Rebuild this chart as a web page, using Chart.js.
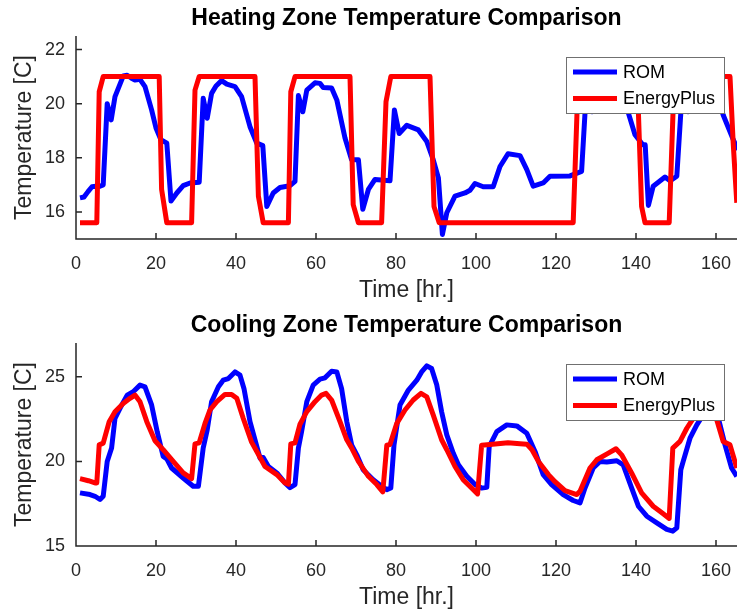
<!DOCTYPE html>
<html>
<head>
<meta charset="utf-8">
<script src="https://cdn.jsdelivr.net/npm/chart.js@4.4.1/dist/chart.umd.min.js"></script>
<style>
  body { margin: 0; background: #fff; }
  canvas { position: absolute; left: 0; }
  #heatChart { top: 0; }
  #coolChart { top: 307px; }
</style>
</head>
<body>
<canvas id="heatChart" width="737" height="306"></canvas>
<canvas id="coolChart" width="737" height="305"></canvas>
<script>
// Heating zone - ROM
const heatRomHours = [1, 2, 3, 4, 5, 6, 6.8, 7.8, 8.8, 9.75, 10.8, 11.8, 12.8, 13.8, 14.75, 16, 17.25, 18.9, 20, 21.2, 22.7, 23.75, 25.2, 26.8, 28.5, 30.8,
  31.8, 32.8, 33.9, 35, 36.4, 37.7, 39.75, 41.4, 43.5, 45.2, 46.7, 47.7, 49.3, 51, 53.5, 54.75,
  55.6, 56.7, 57.7, 59.75, 61, 61.8, 63.9, 65.2, 67.25, 68.9, 70.6, 71.7, 73.1, 74.75, 78.5,
  79.6, 80.8, 82.7, 85.6, 87.7, 89.3, 90.6, 91.6, 92.7, 94.75, 97.25, 98.5, 99.75, 101.8, 104.3, 106, 108, 111, 112.7, 114.3, 116.8, 118.5, 123.5, 126.4,
  127.25, 128, 129, 130, 132, 134, 136, 138.1, 139.75, 141.7, 142.3, 143.1, 144.3, 147.25, 148.5, 150.2,
  151.2, 152, 153, 154, 156, 158, 160, 161.8, 164.3, 165.5];
const heatRomTemp = [16.52, 16.55, 16.75, 16.93, 16.95, 16.95, 17.0, 20.0, 19.4, 20.26, 20.65, 21.02, 21.05, 20.95, 20.87, 20.9, 20.63, 19.77, 19.1, 18.67, 18.54, 16.4, 16.7, 16.97, 17.07, 17.1,
  20.2, 19.46, 20.38, 20.65, 20.85, 20.72, 20.63, 20.26, 19.15, 18.54, 18.45, 16.2, 16.7, 16.9, 16.97, 17.13,
  20.3, 19.7, 20.5, 20.77, 20.75, 20.6, 20.58, 20.14, 18.73, 17.93, 17.93, 16.1, 16.83, 17.2, 17.15,
  19.77, 18.9, 19.2, 19.03, 18.6, 17.93, 17.26, 15.17, 15.97, 16.58, 16.7, 16.8, 17.05, 16.93, 16.93, 17.68, 18.15, 18.08, 17.56, 16.95, 17.07, 17.32, 17.33, 17.5,
  19.65, 20.4, 19.7, 20.4, 20.8, 20.75, 20.4, 19.65, 18.85, 18.48, 18.48, 16.24, 16.95, 17.29, 17.15, 17.32,
  19.65, 20.4, 19.7, 20.4, 20.8, 20.75, 20.4, 19.58, 18.67, 18.3];

// Heating zone - EnergyPlus
const heatEpHours = [1, 5.2, 5.8, 6.8, 20.8, 21.4, 22.7, 28.9, 29.75, 30.8, 44.75, 45.6, 46.8, 53.1, 53.7, 54.75, 68.5, 69.3, 70.6,
  76.4, 77.5, 78.7, 88.5, 89.5, 90.8, 124.3, 125.4, 126.5, 140.3, 141.4, 142.25, 148.3, 149.4, 150.5, 163.5, 164.3, 165.2];
const heatEpTemp = [15.6, 15.6, 20.44, 21, 21, 16.83, 15.6, 15.6, 20.5, 21, 21, 16.58, 15.6, 15.6, 20.44, 21, 21, 16.27, 15.6,
  15.6, 20.07, 21, 21, 16.2, 15.6, 15.6, 20.3, 21, 21, 16.2, 15.6, 15.6, 20.3, 21, 21, 18.54, 16.34];

// Cooling zone - ROM
const coolRomHours = [1, 3.5, 4.75, 6, 6.8, 7.8, 8.9, 9.75, 11, 12.8, 14.3, 16, 17.25, 18.9, 20.3, 21.8, 22.7, 23.9, 26.8, 29.3, 30.6,
  31.8, 32.8, 33.9, 35.6, 36.8, 38.1, 39.75, 41, 42, 43.5, 45.2, 46, 46.8, 48.1, 50.2, 52.25, 53.5, 54.75,
  55.6, 56.4, 57.7, 59.3, 61, 62.25, 63.9, 65.2, 66.4, 67.7, 68.9, 70.2, 71.8, 74.3, 76.4, 77.7, 78.7,
  79.5, 81, 83.1, 85.2, 86.4, 87.7, 88.9, 90.2, 91.4, 92.7, 94.3, 95.6, 97.7, 99.75, 101.4, 102.7,
  103.3, 105.2, 107.7, 110.2, 112.7, 114.75, 116.8, 118.9, 121.8, 124.3, 126,
  127.25, 129.3, 131, 132.7, 135.2, 136.8, 138.9, 140.6, 142.7, 145.2, 147.7, 149.2, 150.2,
  151.2, 151.8, 153.5, 155.2, 156.8, 158.5, 160, 160.8, 162.25, 163.9, 165.2];
const coolRomTemp = [18.14, 18.04, 17.94, 17.75, 17.94, 20.0, 20.79, 22.55, 23.14, 23.92, 24.12, 24.51, 24.41, 23.34, 21.76, 20.29, 20.15, 19.61, 19.02, 18.53, 18.53,
  20.79, 21.86, 23.53, 24.41, 24.8, 24.9, 25.29, 25.1, 24.3, 22.35, 20.88, 20.2, 20.23, 19.7, 19.32, 18.73, 18.45, 18.63,
  20.79, 21.76, 23.53, 24.51, 24.86, 24.94, 25.33, 25.29, 24.3, 22.35, 20.98, 20.39, 19.51, 18.92, 18.53, 18.33, 18.43,
  20.98, 23.33, 24.22, 24.8, 25.29, 25.65, 25.49, 24.51, 22.94, 21.57, 20.49, 19.8, 19.12, 18.63, 18.43, 18.47,
  20.88, 21.76, 22.16, 22.1, 21.67, 20.59, 19.22, 18.63, 18.04, 17.69, 17.55,
  18.43, 19.61, 20.0, 19.96, 20.04, 19.8, 18.43, 17.35, 16.76, 16.37, 15.98, 15.88, 16.08,
  19.51, 20.0, 21.37, 22.16, 22.75, 23.2, 22.9, 22.35, 20.98, 19.61, 19.12];

// Cooling zone - EnergyPlus
const coolEpHours = [1, 3.1, 4.75, 5.2, 5.8, 6.8, 8.3, 9.75, 11.8, 13.5, 14.75, 16, 17.7, 19.75, 21.8, 24.3, 26.8, 28.9,
  29.75, 30.8, 32.25, 33.5, 35.2, 37.25, 38.9, 40.2, 41.8, 43.9, 45.2, 47.25, 50.2, 52.25, 53.1,
  53.7, 54.75, 56, 57.7, 59.75, 61.4, 62.5, 63.9, 66, 67.7, 68.9, 70.6, 73.1, 75.2, 76.7,
  77.7, 78.5, 80.2, 82.25, 84.3, 86.25, 87.7, 89.3, 91.4, 92.7, 94.75, 96.8, 98.9, 100.4,
  101.4, 103.5, 108, 111, 112.7, 114, 115.6, 118.1, 119.75, 122.25, 125.2,
  126, 128.5, 130.2, 133.1, 135, 136.4, 138.9, 141.4, 144.3, 146.8, 148.3,
  149.2, 151, 152.7, 154.3, 156.5, 158.5, 160.2, 161.8, 163.5, 165.2];
const coolEpTemp = [18.98, 18.86, 18.73, 18.73, 20.98, 21.08, 22.35, 22.94, 23.43, 23.73, 23.92, 23.53, 22.35, 21.22, 20.69, 20.0, 19.32, 18.98,
  21.04, 21.1, 22.25, 23.04, 23.53, 23.96, 23.96, 23.73, 22.55, 21.14, 20.59, 19.7, 19.22, 18.73, 18.65,
  21.04, 21.1, 22.2, 22.94, 23.53, 23.92, 24.02, 23.63, 22.35, 21.28, 20.8, 20.0, 19.12, 18.63, 18.2,
  20.96, 21.0, 22.25, 23.04, 23.63, 24.02, 23.82, 22.75, 21.28, 20.69, 19.7, 18.92, 18.43, 18.08,
  20.96, 21.0, 21.1, 21.05, 21.02, 20.69, 20.0, 19.22, 18.8, 18.27, 18.04,
  18.24, 19.61, 20.1, 20.49, 20.75, 20.39, 19.32, 18.14, 17.35, 16.9, 16.63,
  20.79, 21.18, 21.96, 22.55, 23.1, 23.3, 22.45, 21.18, 20.98, 19.61];

const xTicks = [0, 20, 40, 60, 80, 100, 120, 140, 160];
const heatYTicks = [16, 18, 20, 22];
const coolYTicks = [15, 20, 25];

const FONT = "'Liberation Sans', Arial, Helvetica, sans-serif";
const AXIS_COLOR = "#262626";

function toPoints(hours, temps) {
    return hours.map((h, i) => ({ x: h, y: temps[i] }));
}

// MATLAB-like axes: inward ticks, left/bottom lines, legend box inside the plot
const matlabAxes = {
    id: "matlabAxes",
    afterDraw(chart) {
        const ctx = chart.ctx;
        const area = chart.chartArea;
        const xs = chart.scales.x;
        const ys = chart.scales.y;
        ctx.save();
        ctx.strokeStyle = AXIS_COLOR;
        ctx.lineWidth = 1.5;
        ctx.beginPath();
        ctx.moveTo(area.left, area.top);
        ctx.lineTo(area.left, area.bottom);
        ctx.lineTo(area.right, area.bottom);
        xs.ticks.forEach((t) => {
            const px = xs.getPixelForValue(t.value);
            ctx.moveTo(px, area.bottom);
            ctx.lineTo(px, area.bottom - 6);
        });
        ys.ticks.forEach((t) => {
            const py = ys.getPixelForValue(t.value);
            ctx.moveTo(area.left, py);
            ctx.lineTo(area.left + 6, py);
        });
        ctx.stroke();

        // legend
        const bx = 566, by = 57, bw = 158, bh = 56;
        ctx.fillStyle = "#fff";
        ctx.fillRect(bx, by, bw, bh);
        ctx.strokeStyle = "#707070";
        ctx.lineWidth = 1;
        ctx.strokeRect(bx + 0.5, by + 0.5, bw, bh);
        ctx.font = "18px " + FONT;
        ctx.textBaseline = "middle";
        ctx.textAlign = "left";
        chart.data.datasets.forEach((ds, i) => {
            const yy = by + 15 + i * 26.5;
            ctx.strokeStyle = ds.borderColor;
            ctx.lineWidth = 5;
            ctx.beginPath();
            ctx.moveTo(bx + 7, yy);
            ctx.lineTo(bx + 51, yy);
            ctx.stroke();
            ctx.fillStyle = "#000";
            ctx.fillText(ds.label, bx + 57, yy + 1);
        });
        ctx.restore();
    }
};

function makeChart(id, title, romPts, epPts, yMin, yMax, yTicks, xAxisHeight, xTitlePad) {
    const ctx = document.getElementById(id).getContext("2d");
    return new Chart(ctx, {
        type: "line",
        data: {
            datasets: [
                { label: "ROM", data: romPts, borderColor: "rgb(0,0,255)", borderWidth: 5, pointRadius: 0, order: 1, borderJoinStyle: "round" },
                { label: "EnergyPlus", data: epPts, borderColor: "rgb(255,0,0)", borderWidth: 5, pointRadius: 0, order: 0, borderJoinStyle: "round" },
            ],
        },
        options: {
            responsive: false,
            animation: false,
            layout: { padding: 0 },
            plugins: {
                legend: { display: false },
                tooltip: { enabled: false },
                title: {
                    display: true,
                    text: title,
                    color: "#000",
                    fullSize: false,
                    font: { family: FONT, size: 23, weight: "bold" },
                    padding: { top: 4.7, bottom: 3.7 },
                },
            },
            scales: {
                x: {
                    type: "linear",
                    min: 0,
                    max: 165.25,
                    afterBuildTicks: (s) => { s.ticks = xTicks.map((v) => ({ value: v })); },
                    afterFit: (s) => { s.height = xAxisHeight; s.paddingRight = 0; s.paddingLeft = 0; },
                    grid: { display: false, drawTicks: false },
                    border: { display: false },
                    ticks: { color: AXIS_COLOR, font: { family: FONT, size: 18 }, padding: 14, maxRotation: 0 },
                    title: { display: true, text: "Time [hr.]", color: AXIS_COLOR, font: { family: FONT, size: 23 }, padding: { top: 0, bottom: xTitlePad } },
                },
                y: {
                    min: yMin,
                    max: yMax,
                    afterBuildTicks: (s) => { s.ticks = yTicks.map((v) => ({ value: v })); },
                    afterFit: (s) => { s.width = 76; s.paddingTop = 0; s.paddingBottom = 0; },
                    grid: { display: false, drawTicks: false },
                    border: { display: false },
                    ticks: { color: AXIS_COLOR, font: { family: FONT, size: 18 }, padding: 11 },
                    title: { display: true, text: "Temperature [C]", color: AXIS_COLOR, font: { family: FONT, size: 23 }, padding: { top: 11.2, bottom: 0 } },
                },
            },
        },
        plugins: [matlabAxes],
    });
}

makeChart("heatChart", "Heating Zone Temperature Comparison",
    toPoints(heatRomHours, heatRomTemp), toPoints(heatEpHours, heatEpTemp), 15, 22.5, heatYTicks, 67, 1.5);
makeChart("coolChart", "Cooling Zone Temperature Comparison",
    toPoints(coolRomHours, coolRomTemp), toPoints(coolEpHours, coolEpTemp), 15, 27, coolYTicks, 66, 1);
</script>
</body>
</html>
